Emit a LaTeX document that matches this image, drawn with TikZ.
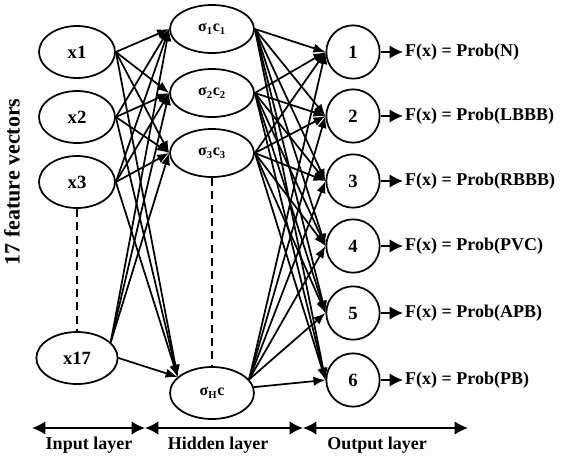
\documentclass[tikz,border=0pt]{standalone}
\usepackage{fontspec}
\setmainfont{Liberation Serif}
\usetikzlibrary{arrows.meta, shapes.geometric}

\begin{document}
\begin{tikzpicture}[x=0.75pt, y=-0.75pt, line width=1.3pt, font=\bfseries,
  >={Latex[length=9pt,width=7pt]},
  innode/.style={draw, ellipse, minimum width=57pt, minimum height=39pt, inner sep=0pt, font=\fontsize{14}{16}\bfseries},
  hidnode/.style={draw, ellipse, minimum width=63pt, minimum height=36pt, inner sep=0pt, font=\fontsize{12}{14}\bfseries},
  outnode/.style={draw, circle, minimum size=40pt, inner sep=0pt, font=\fontsize{14}{16}\bfseries},
  prob/.style={anchor=west, inner sep=1pt, font=\fontsize{13.5}{16}\bfseries},
  outtip/.style={-{Latex[length=10pt,width=10pt]}},
  span/.style={{Latex[length=10pt,width=10pt]}-{Latex[length=10pt,width=10pt]}},
  layername/.style={font=\fontsize{13.5}{16}\bfseries}]

\useasboundingbox (0,0) rectangle (563,458);

% input layer
\node[innode] (x1) at (77,52) {x1};
\node[innode] (x2) at (77,117) {x2};
\node[innode] (x3) at (77,182) {x3};
\node[innode, minimum width=61pt] (x17) at (77,358) {x17};

% hidden layer
\node[hidnode] (h1) at (212,29) {σ\textsubscript{1}c\textsubscript{1}};
\node[hidnode] (h2) at (212,93) {σ\textsubscript{2}c\textsubscript{2}};
\node[hidnode] (h3) at (212,153) {σ\textsubscript{3}c\textsubscript{3}};
\node[hidnode, minimum height=39pt] (hH) at (212,393) {σ\textsubscript{H}c};

% output layer
\node[outnode] (o1) at (353,52) {1};
\node[outnode] (o2) at (353,116) {2};
\node[outnode] (o3) at (353,181) {3};
\node[outnode] (o4) at (353,246) {4};
\node[outnode] (o5) at (353,313) {5};
\node[outnode] (o6) at (353,380) {6};

\node[prob] (f1) at (403,52) {F(x) = Prob(N)};
\node[prob] (f2) at (403,116) {F(x) = Prob(LBBB)};
\node[prob] (f3) at (403,181) {F(x) = Prob(RBBB)};
\node[prob] (f4) at (403,246) {F(x) = Prob(PVC)};
\node[prob] (f5) at (403,313) {F(x) = Prob(APB)};
\node[prob] (f6) at (403,380) {F(x) = Prob(PB)};

\foreach \k in {1,...,6}
  \draw[outtip] (o\k.east) -- (f\k.west);

% skipped neurons
\draw[dash pattern=on 6pt off 4pt] (x3) -- (x17);
\draw[dash pattern=on 6pt off 4pt] (h3) -- (hH);

% input -> hidden
\foreach \i in {x1,x2,x3} {
  \foreach \j in {h1,h2,h3}
    \draw[->] (\i.east) -- (\j.west);
  \draw[->] (\i.east) -- (hH.155);
}
\foreach \j in {h1,h2,h3}
  \draw[->] (x17.25) -- (\j.west);
\draw[->] (x17.east) -- (hH.155);

% hidden -> output
\foreach \i in {h1,h2,h3}
  \foreach \j in {o1,o2,o3,o4,o5,o6}
    \draw[->] (\i.east) -- (\j.west);
\foreach \j in {o1,o2,o3,o4,o5}
  \draw[->] (hH.20) -- (\j.west);
\draw[->] (hH.8) -- (o6.west);

% layer spans
\coordinate (s0) at (32,428);
\coordinate (s1) at (145,428);
\coordinate (s2) at (303,428);
\coordinate (s3) at (468,428);
\draw[span] (s0) -- (s1);
\draw[span] (s1) -- (s2);
\draw[span] (s2) -- (s3);

\node[layername] (lin) at (89,445) {Input layer};
\node[layername] (lhid) at (218,445) {Hidden layer};
\node[layername] (lout) at (377,445) {Output layer};

\node[rotate=90, font=\fontsize{16.5}{19}\bfseries] (feat) at (12,182) {17 feature vectors};

\end{tikzpicture}
\end{document}
